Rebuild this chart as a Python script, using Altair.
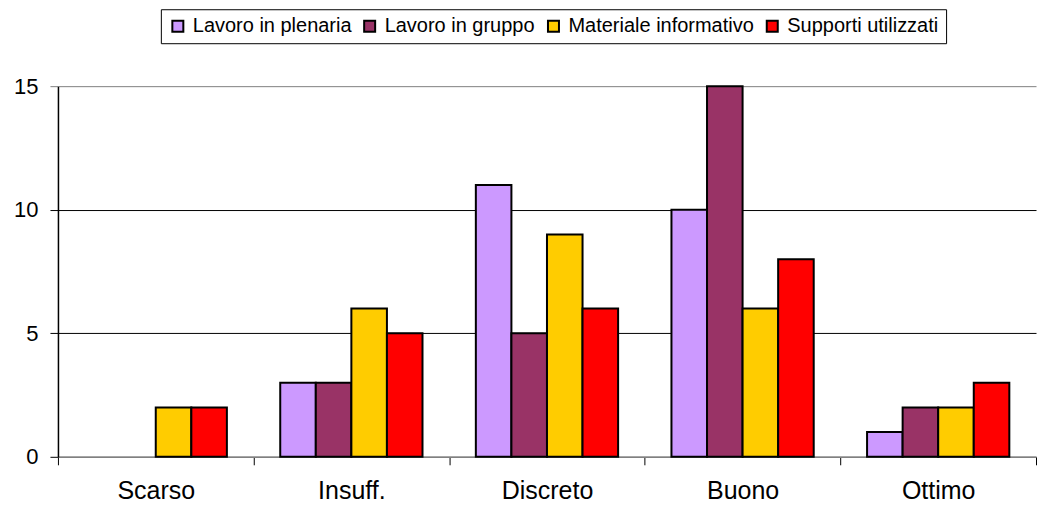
import altair as alt
import pandas as pd

categories = ["Scarso", "Insuff.", "Discreto", "Buono", "Ottimo"]
series = ["Lavoro in plenaria", "Lavoro in gruppo", "Materiale informativo", "Supporti utilizzati"]
plenaria = [0, 3, 11, 10, 1]
gruppo = [0, 3, 5, 15, 2]
materiale = [2, 6, 9, 6, 2]
supporti = [2, 5, 6, 8, 3]
colors = ["#CC99FF", "#993366", "#FFCC00", "#FF0000"]

rows = []
for s, vals in zip(series, [plenaria, gruppo, materiale, supporti]):
    for c, v in zip(categories, vals):
        rows.append({"cat": c, "series": s, "value": v})
df = pd.DataFrame(rows)

font = "Liberation Sans"
cond_gray = {"condition": {"test": "datum.value === 15", "value": "#808080"}, "value": "black"}

chart = alt.Chart(df).mark_bar(stroke="black", strokeWidth=2).encode(
    x=alt.X("cat:N", sort=categories, title=None,
            scale=alt.Scale(paddingInner=0, paddingOuter=0),
            axis=alt.Axis(labelAngle=0, tickBand="extent", tickSize=8, tickColor="black",
                          domainColor="#808080", domainWidth=1.5, labelFontSize=25, labelPadding=14,
                          labelColor="black", labelFont=font)),
    xOffset=alt.XOffset("series:N", sort=series,
                        scale=alt.Scale(paddingInner=0, paddingOuter=0.75)),
    y=alt.Y("value:Q", title=None,
            scale=alt.Scale(domain=[0, 15], nice=False),
            axis=alt.Axis(values=[0, 5, 10, 15], tickSize=8, tickColor=cond_gray,
                          domainColor="black", domainWidth=1.5, labelFontSize=22, labelPadding=12,
                          labelColor="black", labelFont=font,
                          gridColor=cond_gray, gridWidth=1)),
    color=alt.Color("series:N", sort=series, title=None,
                    scale=alt.Scale(domain=series, range=colors),
                    legend=alt.Legend(orient="none", direction="horizontal",
                                      legendX=103, legendY=-77,
                                      strokeColor="black", fillColor="white",
                                      padding=7, symbolType="square", symbolSize=121,
                                      symbolStrokeColor="black", symbolStrokeWidth=2,
                                      symbolOpacity=1,
                                      labelFontSize=20, labelFont=font, labelColor="black",
                                      labelOffset=5, columnPadding=8, labelLimit=400)),
    strokeOpacity=alt.condition("datum.value == 0", alt.value(0), alt.value(1)),
).properties(width=979, height=371, padding={"left": 5, "top": 0, "right": 0, "bottom": 0}
).configure_view(stroke=None)

chart.save("out.html", embed_options={"renderer": "svg", "actions": False})
